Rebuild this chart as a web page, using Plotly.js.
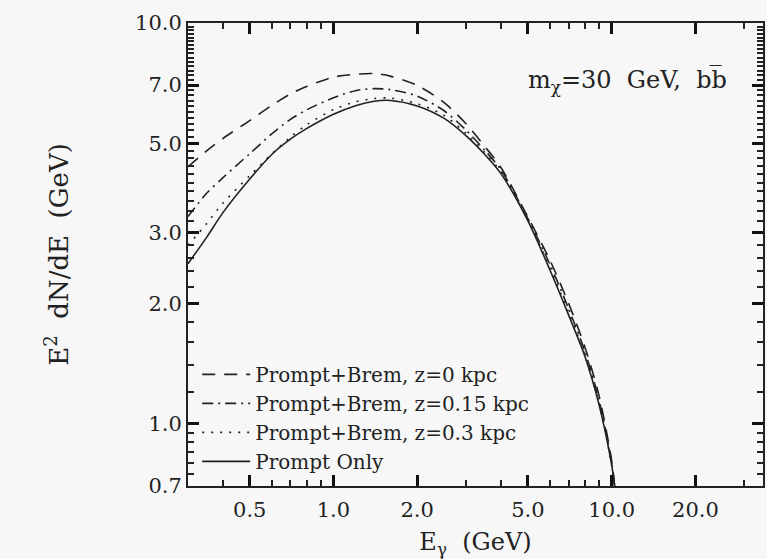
<!DOCTYPE html>
<html>
<head>
<meta charset="utf-8">
<script src="https://cdn.plot.ly/plotly-3.0.1.min.js"></script>
<style>html,body{margin:0;padding:0;background:#f7f7f7;}#chart{width:767px;height:559px;}</style>
</head>
<body>
<div id="chart"></div>
<script>
// Photon energy grid (GeV)
const energy = [0.3, 0.35, 0.4, 0.5, 0.6, 0.7, 0.8, 1.0, 1.2, 1.4, 1.6, 2.0, 2.5, 3.0, 3.5, 4.0, 5.0, 6.0, 7.0, 8.0, 9.0, 10.0, 10.25];
// E^2 dN/dE (GeV)
const bremZ0   = [4.38, 4.80, 5.15, 5.71, 6.23, 6.65, 6.94, 7.33, 7.45, 7.48, 7.37, 6.99, 6.33, 5.60, 4.92, 4.36, 3.28, 2.56, 2.00, 1.56, 1.18, 0.81, 0.70];
const bremZ015 = [3.29, 3.76, 4.11, 4.72, 5.29, 5.75, 6.07, 6.51, 6.78, 6.86, 6.82, 6.57, 6.04, 5.40, 4.81, 4.30, 3.25, 2.50, 1.94, 1.52, 1.15, 0.80, 0.70];
const bremZ03  = [2.79, 3.16, 3.55, 4.16, 4.71, 5.19, 5.57, 6.08, 6.36, 6.48, 6.50, 6.29, 5.88, 5.30, 4.75, 4.25, 3.23, 2.45, 1.90, 1.49, 1.13, 0.79, 0.70];
const promptOnly = [2.51, 2.92, 3.36, 4.08, 4.70, 5.13, 5.45, 5.92, 6.22, 6.38, 6.41, 6.21, 5.78, 5.23, 4.70, 4.21, 3.21, 2.42, 1.87, 1.48, 1.12, 0.79, 0.70];

const seriesNames = ["Prompt+Brem, z=0 kpc", "Prompt+Brem, z=0.15 kpc", "Prompt+Brem, z=0.3 kpc", "Prompt Only"];

const xTickVals = [0.5, 1, 2, 5, 10, 20];
const xTickText = ["0.5", "1.0", "2.0", "5.0", "10.0", "20.0"];
const xMinorVals = [0.4, 0.6, 0.7, 0.8, 0.9, 3, 4, 6, 7, 8, 9, 30];
const yTickVals = [0.7, 1, 2, 3, 5, 7, 10];
const yTickText = ["0.7", "1.0", "2.0", "3.0", "5.0", "7.0", "10.0"];
const yMinorVals = [0.75, 0.8, 0.85, 0.9, 0.95, 1.2, 1.4, 1.6, 1.8, 2.2, 2.4, 2.6, 2.8,
  3.2, 3.4, 3.6, 3.8, 4.0, 4.2, 4.4, 4.6, 4.8, 5.2, 5.4, 5.6, 5.8, 6.0, 6.2, 6.4, 6.6, 6.8,
  7.2, 7.4, 7.6, 7.8, 8.0, 8.2, 8.4, 8.6, 8.8, 9.0, 9.2, 9.4, 9.6, 9.8];

const FONT = "DejaVu Serif, Liberation Serif, serif";
const LINE = "#222";
const dashes = ["13px,9px", "11px,5px,2px,5px", "2px,7px", "solid"];
const ys = [bremZ0, bremZ015, bremZ03, promptOnly];

const traces = ys.map((y, i) => ({
  x: energy, y: y, type: "scatter", mode: "lines", name: seriesNames[i],
  line: {color: LINE, width: 1.6, dash: dashes[i], shape: "spline", smoothing: 0.8}
}));
// helper (empty) trace so the minor-tick overlay axes are drawn
traces.push({x: [], y: [], type: "scatter", mode: "lines", xaxis: "x2", yaxis: "y2", showlegend: false, hoverinfo: "skip"});

const xRange = [Math.log10(0.3), Math.log10(35)];
const yRange = [Math.log10(0.7), 1];

const layout = {
  width: 767, height: 559,
  margin: {l: 188, r: 4, t: 23, b: 73},
  paper_bgcolor: "#f7f7f7", plot_bgcolor: "#f7f7f7",
  font: {family: FONT, size: 21, color: "#222"},
  xaxis: {
    type: "log", range: xRange,
    showline: true, mirror: "ticks", linecolor: LINE, linewidth: 2,
    ticks: "inside", ticklen: 11, tickwidth: 2.5, tickcolor: "#111",
    showgrid: false, tickmode: "array",
    tickvals: xTickVals, ticktext: xTickText, ticklabelstandoff: 4,
    title: {text: "E<sub>γ</sub>  (GeV)", font: {family: FONT, size: 24, color: "#222"}, standoff: 12}
  },
  yaxis: {
    type: "log", range: yRange,
    showline: true, mirror: "ticks", linecolor: LINE, linewidth: 2,
    ticks: "inside", ticklen: 11, tickwidth: 2.5, tickcolor: "#111",
    showgrid: false, tickmode: "array",
    tickvals: yTickVals, ticktext: yTickText,
    title: {text: "E<sup>2</sup>  dN/dE  (GeV)", font: {family: FONT, size: 26, color: "#222"}, standoff: 59}
  },
  xaxis2: {
    type: "log", range: xRange, overlaying: "x", anchor: "y2", side: "bottom",
    showline: false, mirror: "ticks", ticks: "inside", ticklen: 6, tickwidth: 2, tickcolor: "#222",
    showgrid: false, showticklabels: false, tickmode: "array", tickvals: xMinorVals
  },
  yaxis2: {
    type: "log", range: yRange, overlaying: "y", anchor: "x2", side: "left",
    showline: false, mirror: "ticks", ticks: "inside", ticklen: 6, tickwidth: 1.6, tickcolor: "#222",
    showgrid: false, showticklabels: false, tickmode: "array", tickvals: yMinorVals
  },
  legend: {
    x: 0.016, xanchor: "left", y: 0.011, yanchor: "bottom",
    bgcolor: "rgba(0,0,0,0)", borderwidth: 0, itemwidth: 48,
    font: {family: FONT, size: 20, color: "#222"}, tracegroupgap: 0
  },
  showlegend: true,
  annotations: [{
    xref: "paper", yref: "paper", x: 0.94, y: 0.875, xanchor: "right", yanchor: "middle",
    text: "m<sub>χ</sub>=30  GeV,  bb\u0305", showarrow: false,
    font: {family: FONT, size: 24, color: "#222"}
  }]
};

Plotly.newPlot("chart", traces, layout, {displayModeBar: false});
</script>
</body>
</html>
